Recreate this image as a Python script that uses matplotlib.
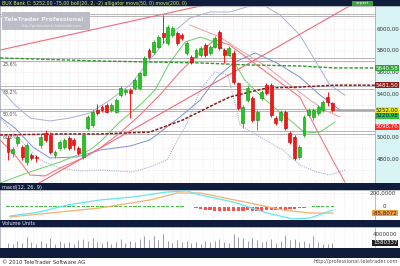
import matplotlib
matplotlib.use("Agg")
import matplotlib.pyplot as plt
from matplotlib.patches import Rectangle

# ---- daily candles, BUX Bank ----
opens = [4995, 4857, 4949, 4912, 4774, 4838, 4820, 4931, 5041, 5023,
         4838, 4903, 4912, 4995, 4977, 4903, 4820, 5087, 5115, 5253,
         5281, 5299, 5253, 5235, 5391, 5419, 5438, 5456, 5456, 5576,
         5806, 5788, 5834, 5963, 5871, 5945, 5963, 5945, 5779, 5742,
         5742, 5760, 5852, 5779, 5834, 5972, 5806, 5760, 5779, 5502,
         5133, 5345, 5364, 5161, 5364, 5484, 5484, 5179, 5161, 5235,
         5041, 5004, 4820, 5023, 5207, 5189, 5226, 5253, 5373, 5320]
closes = [4866, 4894, 5004, 4820, 4931, 4811, 4811, 5004, 4977, 4866,
          4866, 4958, 4977, 4903, 4931, 4857, 5023, 5189, 5235, 5226,
          5253, 5235, 5299, 5345, 5456, 5438, 5410, 5530, 5594, 5733,
          5742, 5880, 5926, 5926, 6018, 6009, 5871, 5917, 5871, 5696,
          5806, 5825, 5760, 5834, 5917, 5825, 5760, 5825, 5511, 5272,
          5281, 5456, 5161, 5235, 5419, 5410, 5207, 5133, 5235, 5087,
          4958, 4811, 4912, 5189, 5253, 5253, 5281, 5327, 5327, 5252]
highs = [5023, 4912, 5032, 4931, 4949, 4857, 4838, 5032, 5069, 5050,
         4884, 4977, 4995, 5013, 4995, 4921, 5041, 5207, 5253, 5309,
         5299, 5318, 5318, 5364, 5474, 5456, 5456, 5548, 5604, 5751,
         5825, 5899, 5945, 6129, 6037, 6027, 5982, 5963, 5889, 5760,
         5825, 5843, 5871, 5852, 5935, 5991, 5825, 5843, 5806, 5511,
         5299, 5484, 5382, 5253, 5438, 5502, 5502, 5198, 5253, 5253,
         5060, 5023, 4931, 5207, 5272, 5272, 5299, 5345, 5419, 5330]
lows = [4792, 4820, 4921, 4792, 4746, 4792, 4774, 4903, 4958, 4848,
        4811, 4884, 4894, 4884, 4884, 4838, 4801, 5069, 5096, 5207,
        5235, 5226, 5235, 5226, 5373, 5391, 5179, 5438, 5438, 5567,
        5723, 5770, 5825, 5871, 5852, 5926, 5852, 5899, 5760, 5677,
        5733, 5742, 5742, 5760, 5825, 5806, 5687, 5751, 5493, 5253,
        5087, 5327, 5143, 5069, 5345, 5391, 5189, 5115, 5143, 5069,
        4940, 4792, 4801, 5004, 5189, 5161, 5207, 5235, 5290, 5235]
volumes = [1.6, 1.2, 2.0, 1.4, 3.5, 1.8, 1.1, 2.2, 1.5, 3.2,
           1.3, 2.0, 1.6, 1.9, 1.2, 2.4, 2.8, 2.1, 3.2, 1.7,
           1.4, 2.0, 1.3, 1.8, 2.6, 1.5, 2.2, 1.9, 2.7, 3.7,
           2.3, 3.7, 2.5, 4.3, 2.0, 1.6, 2.4, 1.8, 2.2, 1.5,
           1.9, 1.3, 2.1, 1.7, 2.0, 2.6, 1.8, 1.4, 4.3, 3.5,
           3.2, 2.1, 2.9, 2.4, 1.8, 2.2, 2.7, 1.6, 2.0, 4.0,
           2.3, 2.8, 1.9, 2.1, 1.5, 3.7, 1.7, 1.3, 1.2, 1.58]  # millions

date_labels = ["10", "03", "07", "09", "13", "15", "17", "21", "23", "27",
               "29", "oct", "05", "07", "11", "13", "15", "19", "21", "25",
               "27", "nov", "04", "08", "10", "12", "16", "18", "22", "24",
               "26", "dec", "06", "08", "10", "14", "16", "20"]
date_pos = [-0.6, 1.5, 3.2, 5.3, 7.2, 9.1, 11.1, 13.0, 14.9, 16.8,
            18.9, 21.1, 23.2, 25.1, 27.0, 28.7, 30.9, 33.0, 34.9, 36.6,
            38.5, 41.5, 43.6, 45.7, 47.9, 49.8, 51.7, 53.6, 55.5, 57.4,
            59.4, 61.9, 65.3, 67.2, 69.4, 71.5, 73.4, 75.3]

# ---- overlays (candle index, price) ----
bbu_x = [-1.7, 1.5, 4.7, 8.9, 13.2, 17.4, 21.7, 26.0, 30.2, 34.5, 38.7, 43.0, 47.2, 51.5, 54.7, 57.9, 62.1, 65.3, 68.5, 71.7]
bbu_y = [5456, 5299, 5179, 5152, 5179, 5226, 5345, 5484, 5714, 5945, 6101, 6157, 6157, 6212, 6212, 6129, 5945, 5714, 5484, 5391]
bbl_x = [-1.7, 2.6, 6.8, 11.1, 15.3, 19.6, 26.6, 30.2, 33.8, 38.1, 40.9, 44.0, 46.8, 49.4, 53.6, 58.5, 62.1, 65.7, 68.5, 71.7]
bbl_y = [5179, 4977, 4792, 4719, 4691, 4700, 4682, 4728, 4792, 5133, 5438, 5604, 5576, 5115, 5004, 4884, 4746, 4682, 4654, 4700]
jaw_x = [-1.7, 1.5, 5.3, 8.9, 14.7, 19.6, 26.0, 30.2, 36.6, 40.9, 44.5, 48.3, 52.6, 57.2, 62.1, 66.4, 70.6]
jaw_y = [5189, 5087, 4912, 4811, 4820, 4884, 4921, 4977, 5189, 5345, 5557, 5696, 5779, 5687, 5557, 5391, 5253]
teeth_x = [-1.7, 1.5, 4.7, 7.9, 11.1, 16.4, 19.6, 23.8, 28.1, 32.3, 36.6, 40.9, 44.0, 47.2, 51.5, 57.2, 62.1, 65.7, 69.1, 71.7]
teeth_y = [4977, 4838, 4654, 4645, 4719, 4820, 4903, 5041, 5207, 5391, 5604, 5788, 5899, 5852, 5714, 5530, 5373, 5069, 4792, 4589]
teeth2_x = [38.7, 45.1, 49.4, 55.1, 60.6, 64.3, 67.4, 70.6]
teeth2_y = [6037, 5926, 5806, 5650, 5465, 5345, 5253, 5189]
lips_x = [-1.7, 4.7, 11.1, 17.4, 19.6, 23.8, 28.1, 31.3, 34.5, 37.7, 40.9, 44.0, 47.2, 50.4, 53.6, 56.8, 60.0, 63.2, 66.4, 69.6]
lips_y = [4580, 4682, 4774, 4884, 4958, 5143, 5299, 5438, 5696, 5880, 5926, 5880, 5760, 5530, 5391, 5272, 5161, 5041, 5050, 5143]
sma50_x = [-1.7, 11.1, 19.6, 30.2, 37.2, 44.5, 47.2, 51.5, 55.1, 62.1, 69.5, 78.1]
sma50_y = [5023, 5032, 5032, 5050, 5161, 5318, 5373, 5419, 5456, 5465, 5482, 5482]
sma200_x = [-1.7, 19.6, 30.2, 40.9, 51.5, 62.1, 69.5, 78.1]
sma200_y = [5733, 5705, 5696, 5687, 5668, 5659, 5641, 5641]
trend_up = ([6.6, 73.8], [4580, 6240])
trend_top = ([-1.7, 41.9], [5806, 6221])
fib_levels = [6129, 5716, 5460, 5253, 5046]
fib_names = ["", "23,6%", "38,2%", "50,0%", "61,8%"]

# ---- macd(12, 26, 9) ----
macd_x = [0.4, 6.8, 12.6, 19.6, 26.6, 33.8, 38.1, 40.9, 47.9, 55.1, 60.6, 64.3, 69.1]
macd_v = [-129, -71, 29, 100, 143, 214, 229, 172, 72, -86, -171, -157, -43]
sig_x = [0.4, 8.9, 19.6, 30.2, 36.0, 40.9, 51.5, 58.5, 64.3, 69.1]
sig_v = [-143, -86, -14, 100, 200, 200, 57, -43, -86, -86]
hist = [10, 10, 12, 12, 12, 12, 12, 12, 12, 12,
        12, 12, 12, 12, 12, 12, 12, 12, 12, 12,
        12, 12, 12, 12, 12, 12, 12, 12, 12, 12,
        12, 12, 12, 12, 12, 12, 10, 8, 4, 0,
        -20, -30, -40, -50, -55, -60, -60, -55, -60, -60,
        -55, -50, -55, -60, -55, -50, -50, -45, -40, -40,
        -35, -30, -20, -10, 5, 10, 15, 15, 15, 15]

W, H = 400, 266
NAVY = "#0f1c3c"
XLIM = (-1.7, 78.1)


def rect(x0, y0, x1, y1):
    return [x0 / W, 1 - y1 / H, (x1 - x0) / W, (y1 - y0) / H]


def band(fig, x0, y0, x1, y1, color):
    fig.add_artist(Rectangle((x0 / W, 1 - y1 / H), (x1 - x0) / W, (y1 - y0) / H,
                             transform=fig.transFigure, color=color, lw=0, zorder=1))


def bare(ax, color="white"):
    ax.set_facecolor(color)
    ax.set_xticks([])
    ax.set_yticks([])
    for s in ax.spines.values():
        s.set_color("#9aa0aa")
        s.set_linewidth(0.5)


def ftext(fig, x, y, s, **kw):
    fig.text(x / W, 1 - y / H, s, zorder=6, **kw)


fig = plt.figure(figsize=(4, 2.66), dpi=100)
fig.patch.set_facecolor("white")

# dark bars
band(fig, 0, 0, 400, 6, NAVY)
band(fig, 0, 183, 400, 190, NAVY)
band(fig, 0, 220, 400, 227, NAVY)
band(fig, 0, 248, 400, 258, NAVY)

# ---- main price panel ----
ax = fig.add_axes(rect(0, 6, 375, 183))
bare(ax)
ax.set_xlim(*XLIM)
ax.set_ylim(4580, 6212)
for p in range(4600, 6201, 100):
    ax.axhline(p, color="#f2ccd2", lw=0.4, ls=(0, (1, 1.5)), zorder=0)
for xp in date_pos:
    ax.axvline(xp, color="#f2ccd2", lw=0.4, ls=(0, (1, 1.5)), zorder=0)

for lvl, name in zip(fib_levels, fib_names):
    ax.axhline(lvl + 12, color="#a9a9ad", lw=0.6, zorder=1)
    ax.axhline(lvl - 12, color="#a9a9ad", lw=0.6, zorder=1)
    if name:
        ax.text(-1.2, lvl - 20, name, fontsize=3.4, color="#555555", va="top", zorder=2)

ax.plot(bbu_x, bbu_y, color="#a6b2d4", lw=0.7, zorder=2)
ax.plot(bbl_x, bbl_y, color="#a6b2d4", lw=0.8, ls=(0, (1, 1)), zorder=2)
ax.plot(jaw_x, jaw_y, color="#7d93d8", lw=0.7, zorder=2)
ax.plot(teeth_x, teeth_y, color="#f07a80", lw=0.8, zorder=2)
ax.plot(teeth2_x, teeth2_y, color="#f49ea4", lw=0.7, zorder=2)
ax.plot(lips_x, lips_y, color="#66d066", lw=0.7, zorder=2)
ax.plot(*trend_up, color="#f06a7a", lw=0.8, zorder=2)
ax.plot(*trend_top, color="#f06a7a", lw=0.8, zorder=2)
ax.plot(sma200_x, sma200_y, color="#2e9a2e", lw=1.0, ls=(0, (2.5, 1.2)), zorder=3)
ax.plot(sma50_x, sma50_y, color="#8b1a1a", lw=1.1, ls=(0, (2, 1)), zorder=3)
ax.plot([69, 78.1], [closes[-1], closes[-1]], color="#9a9a9a", lw=0.6, zorder=2)

idx = list(range(len(opens)))
body_c = ["#22c822" if c >= o else "#ff1414" for o, c in zip(opens, closes)]
edge_c = ["#0c8c0c" if c >= o else "#b00000" for o, c in zip(opens, closes)]
ax.vlines(idx, lows, highs, colors=body_c, lw=0.7, zorder=4)
ax.bar(idx, [max(abs(c - o), 8) for o, c in zip(opens, closes)],
       bottom=[min(o, c) for o, c in zip(opens, closes)],
       width=0.62, color=body_c, edgecolor=edge_c, lw=0.4, zorder=5)

# watermark
band(fig, 2, 12, 90, 30, "#bcbcc6")
ftext(fig, 4, 19.5, "TeleTrader Professional", fontsize=4.3, color="#f0f0f6",
      fontweight="bold", va="center")
ftext(fig, 22, 26.5, "http://professional.teletrader.com", fontsize=2.5,
      color="#f0f0f6", va="center")

# right price column
axr = fig.add_axes(rect(375, 6, 400, 183))
bare(axr, "#d8f4f4")
axr.set_xlim(0, 1)
axr.set_ylim(4580, 6212)
for p in range(4800, 6001, 200):
    axr.text(0.08, p, f"{p},00", fontsize=4.0, color="#333333", va="center")
boxes = [(5641, "5640,58", "#34a034", "white"),
         (5482, "5481,50", "#8e1c1c", "white"),
         (5252, "5252,00", "#e6e622", "#222222"),
         (5200, "5220,98", "#30c030", "#10208a"),
         (5099, "5098,76", "#ff2a2a", "white")]
for p, s, fc, tc in boxes:
    axr.text(0.04, p, s, fontsize=4.0, color=tc, va="center", zorder=5,
             bbox=dict(boxstyle="square,pad=0.12", fc=fc, ec="none"))

# header
ftext(fig, 2, 3.3, "BUX Bank C: 5252,00 -75,00 boll(20, 2, -2) alligator movs(50, 0) movs(200, 0)",
      fontsize=3.4, color="#d6f070", va="center")
band(fig, 352, 1, 373, 6, "#3aa03a")
ftext(fig, 362.5, 3.4, "expert", fontsize=3.0, color="white", va="center", ha="center")

# ---- macd panel ----
ftext(fig, 2, 187, "macd(12, 26, 9)", fontsize=3.6, color="#e8ecf8", va="center")
axm = fig.add_axes(rect(0, 190, 375, 220))
bare(axm)
axm.set_xlim(*XLIM)
axm.set_ylim(-186, 243)
for xp in date_pos:
    axm.axvline(xp, color="#f2ccd2", lw=0.4, ls=(0, (1, 1.5)), zorder=0)
axm.axhline(200, color="#f2ccd2", lw=0.4, ls=(0, (1, 1.5)), zorder=0)
axm.bar(idx, hist, width=0.7, color=["#40c040" if h >= 0 else "#ff5050" for h in hist], zorder=2)
axm.plot(sig_x, sig_v, color="#f4b070", lw=0.9, zorder=3)
axm.plot(macd_x, macd_v, color="#60e8f0", lw=0.9, zorder=3)
axmr = fig.add_axes(rect(375, 190, 400, 220))
bare(axmr)
axmr.set_xlim(0, 1)
axmr.set_ylim(-186, 243)
axmr.text(-0.2, 200, "200,0000", fontsize=4.0, color="#333333", va="center", clip_on=False)
axmr.text(0.3, 0, "0", fontsize=4.0, color="#333333", va="center")
axmr.text(-0.1, sig_v[-1], "-85,8072", fontsize=4.0, color="#222222", va="center", zorder=5,
          clip_on=False, bbox=dict(boxstyle="square,pad=0.12", fc="#f0a040", ec="none"))

# ---- volume panel ----
ftext(fig, 2, 223.8, "Volume Units", fontsize=3.6, color="#e8ecf8", va="center")
axv = fig.add_axes(rect(0, 227, 375, 248))
bare(axv)
axv.set_xlim(*XLIM)
axv.set_ylim(0, 6.4)
for xp in date_pos:
    axv.axvline(xp, color="#f2ccd2", lw=0.4, ls=(0, (1, 1.5)), zorder=0)
axv.vlines(idx, 0, volumes, colors="#9a9aa6", lw=0.7, zorder=2)
axvr = fig.add_axes(rect(375, 227, 400, 248))
bare(axvr)
axvr.set_xlim(0, 1)
axvr.set_ylim(0, 6.4)
axvr.text(-0.08, 4.0, "4000000", fontsize=4.0, color="#333333", va="center", clip_on=False)
axvr.text(-0.08, volumes[-1], "1580337", fontsize=4.0, color="white", va="center", zorder=5,
          clip_on=False, bbox=dict(boxstyle="square,pad=0.12", fc="#202020", ec="none"))

# ---- date row ----
axd = fig.add_axes(rect(0, 248, 375, 258))
axd.set_xlim(*XLIM)
axd.set_ylim(0, 1)
axd.axis("off")
for xp, s in zip(date_pos, date_labels):
    axd.text(xp, 0.5, s, fontsize=3.6, color="#f0f0f0", ha="center", va="center")

# footer
ftext(fig, 2, 262, "\u00a9 2010 TeleTrader Software AG", fontsize=3.8, color="#333333", va="center")
ftext(fig, 398, 262, "http://professional.teletrader.com", fontsize=3.6, color="#555555",
      va="center", ha="right")

fig.savefig("out.png", dpi=100)
